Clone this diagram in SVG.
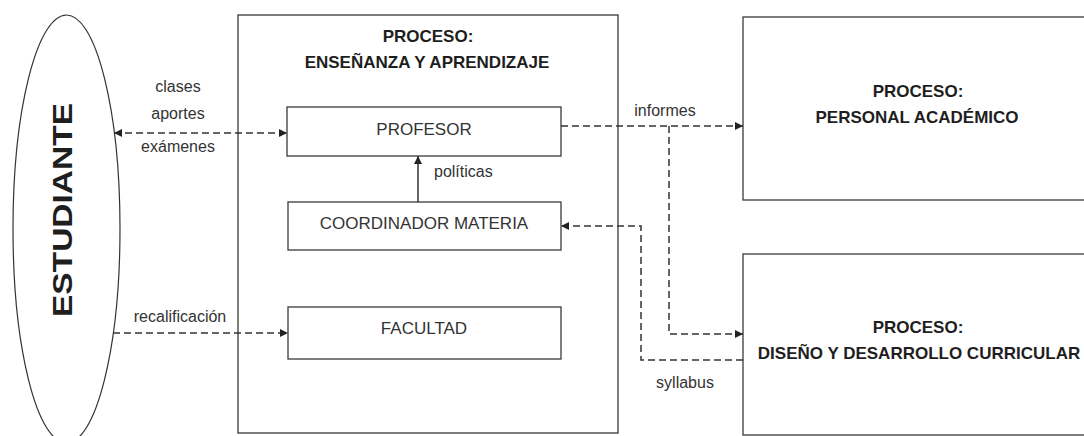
<svg xmlns="http://www.w3.org/2000/svg" width="1084" height="436" viewBox="0 0 1084 436">
<style>
.box{fill:#fff;stroke:#3a3a3a;stroke-width:1.3}
.t{font-family:'Liberation Sans',Arial,sans-serif;fill:#333;font-size:16px}
.n{font-size:17px}
.b{font-weight:bold;fill:#1e1e1e;font-size:17px}
.m{text-anchor:middle}
.dash{fill:none;stroke:#333;stroke-width:1.5;stroke-dasharray:7 4}
.solid{fill:none;stroke:#333;stroke-width:1.5}
</style>
<defs>
<marker id="ah" viewBox="0 0 10 10" refX="10" refY="5" markerWidth="9" markerHeight="8" markerUnits="userSpaceOnUse" orient="auto-start-reverse">
<path d="M0,0 L10,5 L0,10 z" fill="#222"/>
</marker>
</defs>
<rect width="1084" height="436" fill="#fff"/>
<g id="estudiante">
<ellipse cx="66.5" cy="229" rx="53.5" ry="214" fill="#fff" stroke="#333" stroke-width="1.2"/>
<text class="t m" transform="translate(72,210) rotate(-90)" style="font-weight:bold;font-size:28px;fill:#1e1e1e" textLength="214" lengthAdjust="spacingAndGlyphs">ESTUDIANTE</text>
</g>
<g id="proceso-ensenanza">
<rect class="box" x="238" y="15" width="380" height="418"/>
<text class="t b m" x="428" y="42">PROCESO:</text>
<text class="t b m" x="427" y="68">ENSEÑANZA Y APRENDIZAJE</text>
</g>
<g id="profesor">
<rect class="box" x="287" y="107" width="274" height="49"/>
<text class="t n m" x="424" y="135">PROFESOR</text>
</g>
<g id="coordinador">
<rect class="box" x="288" y="202" width="273" height="48"/>
<text class="t n m" x="424" y="229">COORDINADOR MATERIA</text>
</g>
<g id="facultad">
<rect class="box" x="288" y="307" width="273" height="52"/>
<text class="t n m" x="424" y="334">FACULTAD</text>
</g>
<g id="proceso-personal">
<rect class="box" x="743" y="17" width="400" height="183"/>
<text class="t b m" x="918" y="97">PROCESO:</text>
<text class="t b m" x="917" y="123">PERSONAL ACADÉMICO</text>
</g>
<g id="proceso-diseno">
<rect class="box" x="743" y="254" width="400" height="181"/>
<text class="t b m" x="918" y="333">PROCESO:</text>
<text class="t b m" x="919" y="359">DISEÑO Y DESARROLLO CURRICULAR</text>
</g>
<g id="connectors">
<line class="dash" x1="114" y1="133" x2="287" y2="133" marker-start="url(#ah)" marker-end="url(#ah)"/>
<line class="dash" x1="113" y1="333" x2="288" y2="333" marker-end="url(#ah)"/>
<line class="solid" x1="418" y1="202" x2="418" y2="156" marker-end="url(#ah)"/>
<line class="dash" x1="561" y1="126" x2="743" y2="126" marker-end="url(#ah)"/>
<path class="dash" d="M669,126 V334 H743" marker-end="url(#ah)"/>
<path class="dash" d="M743,360 H641 V226 H561" marker-end="url(#ah)"/>
</g>
<g id="labels">
<text class="t m" x="178" y="92">clases</text>
<text class="t m" x="178" y="119">aportes</text>
<text class="t m" x="178" y="152">exámenes</text>
<text class="t m" x="180" y="322">recalificación</text>
<text class="t" x="434" y="177">políticas</text>
<text class="t m" x="665" y="116">informes</text>
<text class="t m" x="685" y="388">syllabus</text>
</g>
</svg>
